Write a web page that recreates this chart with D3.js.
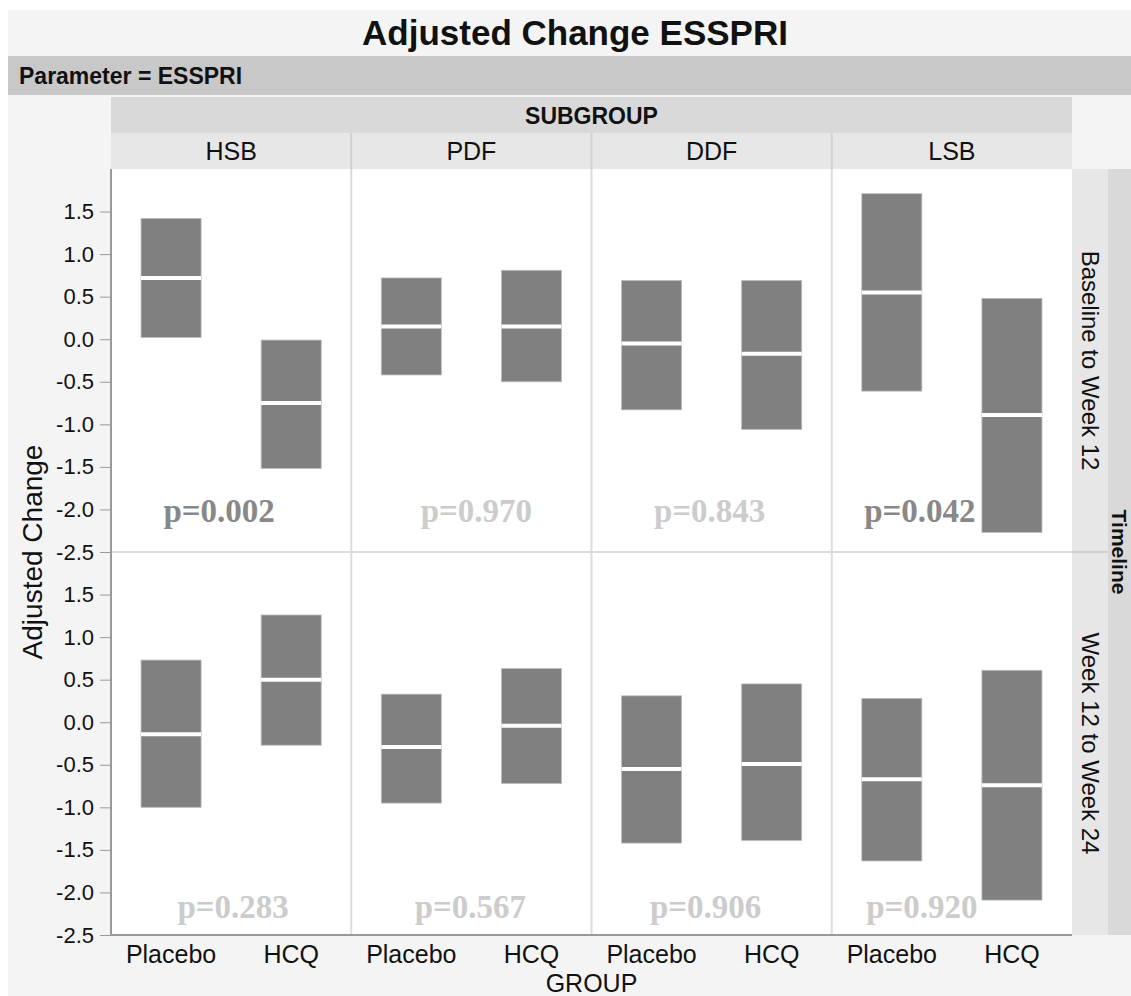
<!DOCTYPE html>
<html lang="en">
<head>
    <meta charset="UTF-8">
    <title>Adjusted Change ESSPRI</title>
    <style>
        html, body { margin: 0; padding: 0; background: #fff; overflow: hidden; }
        svg { display: block; }
        text { font-family: "Liberation Sans", Arial, Helvetica, sans-serif; fill: #111; }
        .pval { font-family: "Liberation Serif", "Times New Roman", serif; font-weight: bold; }
    </style>
    <script src="https://d3js.org/d3.v7.min.js"></script>
</head>
<body>
<svg width="1131" height="996"></svg>
<script>
    // ---- data ----
    var subgroups = ["HSB", "PDF", "DDF", "LSB"];
    var timelines = ["Baseline to Week 12", "Week 12 to Week 24"];
    var groups = ["Placebo", "HCQ"];
    var yTicks = [-2.5, -2.0, -1.5, -1.0, -0.5, 0.0, 0.5, 1.0, 1.5];

    // [subgroup][Placebo, HCQ]
    var lowerW12  = [[0.02, -1.52], [-0.42, -0.50], [-0.83, -1.06], [-0.61, -2.27]];
    var medianW12 = [[0.72, -0.75], [0.15, 0.15], [-0.05, -0.17], [0.55, -0.89]];
    var upperW12  = [[1.42, -0.01], [0.72, 0.81], [0.69, 0.69], [1.71, 0.48]];

    var lowerW24  = [[-1.00, -0.27], [-0.95, -0.72], [-1.42, -1.39], [-1.63, -2.09]];
    var medianW24 = [[-0.14, 0.50], [-0.29, -0.04], [-0.55, -0.49], [-0.67, -0.74]];
    var upperW24  = [[0.73, 1.26], [0.33, 0.63], [0.31, 0.45], [0.28, 0.61]];

    var pW12 = ["0.002", "0.970", "0.843", "0.042"];
    var pW24 = ["0.283", "0.567", "0.906", "0.920"];

    var rowsData = [
        {lower: lowerW12, median: medianW12, upper: upperW12, p: pW12},
        {lower: lowerW24, median: medianW24, upper: upperW24, p: pW24}
    ];

    // ---- layout ----
    var svg = d3.select("svg");
    var W = 1131, H = 996;
    var left = 111, right = 1072;
    var rowTop = 169, rowH = 383;
    var panelW = (right - left) / subgroups.length;
    var pLabelDx = [[-12, 5, -2, -32], [2, -1, -6, -30]];
    var pLabelY = [-2.15, -2.3];

    svg.append("rect").attr("x", 8).attr("y", 10).attr("width", W - 8).attr("height", H - 10)
        .attr("fill", "#f4f4f4");

    svg.append("text").attr("x", 575).attr("y", 45).attr("text-anchor", "middle")
        .style("font-size", "35px").style("font-weight", "bold")
        .text("Adjusted Change ESSPRI");

    svg.append("rect").attr("x", 8).attr("y", 56).attr("width", W - 8).attr("height", 39)
        .attr("fill", "#c8c8c8");
    svg.append("text").attr("x", 19).attr("y", 84)
        .style("font-size", "23px").style("font-weight", "bold")
        .text("Parameter = ESSPRI");

    // subgroup header
    svg.append("rect").attr("x", left).attr("y", 97).attr("width", right - left).attr("height", 36)
        .attr("fill", "#d9d9d9");
    svg.append("text").attr("x", (left + right) / 2).attr("y", 124).attr("text-anchor", "middle")
        .style("font-size", "23px").style("font-weight", "bold").text("SUBGROUP");
    svg.append("rect").attr("x", left).attr("y", 133).attr("width", right - left).attr("height", 36)
        .attr("fill", "#e7e7e7");

    var x = d3.scaleBand().domain(groups).range([0, panelW])
        .paddingInner(0.5).paddingOuter(0.25);

    subgroups.forEach(function(s, i) {
        var px = left + i * panelW;
        svg.append("text").attr("x", px + panelW / 2).attr("y", 160).attr("text-anchor", "middle")
            .style("font-size", "25px").text(s);
        if (i > 0) {
            svg.append("line").attr("x1", px).attr("x2", px).attr("y1", 133).attr("y2", 169)
                .attr("stroke", "#d0d0d0").attr("stroke-width", 2);
        }
    });

    // right strips
    svg.append("rect").attr("x", right).attr("y", rowTop).attr("width", 36).attr("height", rowH * 2)
        .attr("fill", "#e7e7e7");
    svg.append("rect").attr("x", right + 36).attr("y", rowTop).attr("width", W - right - 36).attr("height", rowH * 2)
        .attr("fill", "#d9d9d9");
    svg.append("line").attr("x1", right).attr("x2", right + 36).attr("y1", rowTop + rowH).attr("y2", rowTop + rowH)
        .attr("stroke", "#d0d0d0").attr("stroke-width", 2);
    svg.append("text")
        .attr("transform", "translate(" + (right + 40) + "," + (rowTop + rowH) + ") rotate(90)")
        .attr("text-anchor", "middle").style("font-size", "21px").style("font-weight", "bold")
        .text("Timeline");

    var fmt = function(d) { return d3.format(".1f")(d).replace("\u2212", "-"); };

    timelines.forEach(function(t, r) {
        var top = rowTop + r * rowH;
        var y = d3.scaleLinear().domain([-2.5, 2.0]).range([top + rowH, top]);
        var rd = rowsData[r];

        svg.append("rect").attr("x", left).attr("y", top).attr("width", right - left).attr("height", rowH)
            .attr("fill", "#fff");

        svg.append("text")
            .attr("transform", "translate(" + (right + 10) + "," + (top + rowH / 2) + ") rotate(90)")
            .attr("text-anchor", "middle").style("font-size", "24px").text(t);

        // y axis
        var ax = svg.append("g").attr("transform", "translate(" + left + ",0)")
            .call(d3.axisLeft(y).tickValues(yTicks).tickSize(11).tickPadding(6).tickFormat(fmt));
        ax.select(".domain").remove();
        ax.selectAll(".tick line").attr("stroke", "#999");
        ax.selectAll(".tick text").style("font-size", "22px").attr("fill", "#111")
            .style("font-family", "'Liberation Sans', Arial, sans-serif");

        subgroups.forEach(function(s, i) {
            var px = left + i * panelW;
            var g = svg.append("g").attr("transform", "translate(" + px + ",0)");

            if (i > 0) {
                g.append("line").attr("x1", 0).attr("x2", 0).attr("y1", top).attr("y2", top + rowH)
                    .attr("stroke", "#dcdcdc").attr("stroke-width", 2);
            }

            var boxes = groups.map(function(gr, k) {
                return {group: gr, lo: rd.lower[i][k], med: rd.median[i][k], hi: rd.upper[i][k]};
            });

            g.selectAll("rect.box").data(boxes).enter().append("rect")
                .attr("class", "box")
                .attr("x", function(d) { return x(d.group); })
                .attr("width", x.bandwidth())
                .attr("y", function(d) { return y(d.hi); })
                .attr("height", function(d) { return y(d.lo) - y(d.hi); })
                .attr("fill", "#808080")
                .attr("stroke", "#bdbdbd").attr("stroke-width", 0.8);

            g.selectAll("line.med").data(boxes).enter().append("line")
                .attr("class", "med")
                .attr("x1", function(d) { return x(d.group); })
                .attr("x2", function(d) { return x(d.group) + x.bandwidth(); })
                .attr("y1", function(d) { return y(d.med); })
                .attr("y2", function(d) { return y(d.med); })
                .attr("stroke", "#fff").attr("stroke-width", 4);

            var pv = +rd.p[i];
            g.append("text").attr("class", "pval")
                .attr("x", panelW / 2 + pLabelDx[r][i]).attr("y", y(pLabelY[r]))
                .attr("text-anchor", "middle")
                .style("font-size", "33px")
                .style("fill", pv < 0.05 ? "#888888" : "#cccccc")
                .text("p=" + rd.p[i]);

            if (r === 1) {
                g.selectAll("text.xl").data(groups).enter().append("text")
                    .attr("class", "xl")
                    .attr("x", function(d) { return x(d) + x.bandwidth() / 2; })
                    .attr("y", 963).attr("text-anchor", "middle")
                    .style("font-size", "25px").text(function(d) { return d; });
            }
        });
    });

    // row divider and axis lines
    svg.append("line").attr("x1", left).attr("x2", right).attr("y1", rowTop + rowH).attr("y2", rowTop + rowH)
        .attr("stroke", "#dcdcdc").attr("stroke-width", 2);
    svg.append("line").attr("x1", left).attr("x2", left).attr("y1", rowTop).attr("y2", rowTop + 2 * rowH)
        .attr("stroke", "#999").attr("stroke-width", 2);
    svg.append("line").attr("x1", left).attr("x2", right).attr("y1", rowTop + 2 * rowH).attr("y2", rowTop + 2 * rowH)
        .attr("stroke", "#999").attr("stroke-width", 2);

    svg.append("text")
        .attr("transform", "translate(42," + (rowTop + rowH) + ") rotate(-90)")
        .attr("text-anchor", "middle").style("font-size", "28px").text("Adjusted Change");

    svg.append("text").attr("x", (left + right) / 2).attr("y", 992).attr("text-anchor", "middle")
        .style("font-size", "25px").text("GROUP");
</script>
</body>
</html>
